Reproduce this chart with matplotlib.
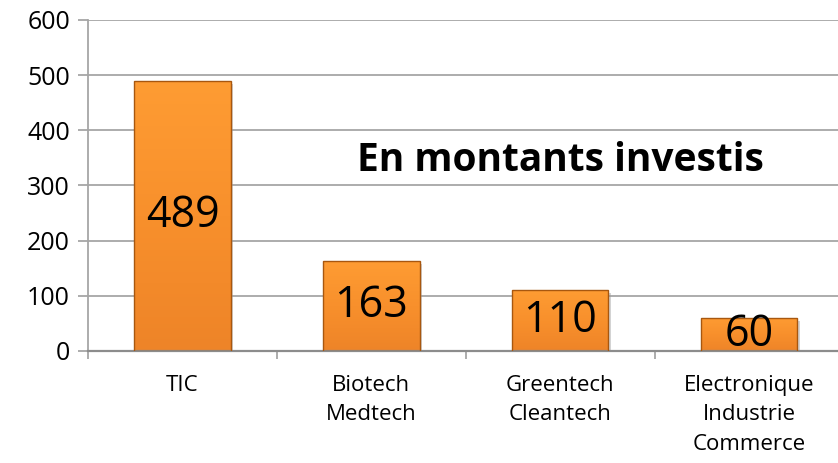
import numpy as np
import matplotlib.pyplot as plt
from matplotlib.colors import LinearSegmentedColormap

categories = ["TIC", "Biotech\nMedtech", "Greentech\nCleantech", "Electronique\nIndustrie\nCommerce"]
values = [489, 163, 110, 60]
yticks = [0, 100, 200, 300, 400, 500, 600]
title = "En montants investis"

plt.rcParams['font.family'] = ['Open Sans', 'DejaVu Sans']

fig = plt.figure(figsize=(8.38, 4.63), dpi=100)
ax = fig.add_axes([0.105, 0.242, 0.895, 0.715])

x = np.arange(len(categories))
w = 0.51
grid_c = "#A6A6A6"
for y in yticks[1:]:
    ax.axhline(y, color=grid_c, lw=1.3, zorder=0)

# soft shadow
ax.bar(x + 0.015, values, width=w, bottom=-5, color="#9E9E9E", alpha=0.45, zorder=1)
bars = ax.bar(x, values, width=w, color="none", edgecolor="#A8570F", linewidth=1.0, zorder=3)

# vertical gradient fill
cmap = LinearSegmentedColormap.from_list("org", ["#EE8428", "#F8902C", "#FE9C33"])
grad = np.linspace(0, 1, 256).reshape(-1, 1)
for b in bars:
    x0, y0 = b.get_x(), b.get_y()
    im = ax.imshow(grad, cmap=cmap, origin="lower", aspect="auto",
                   extent=[x0, x0 + b.get_width(), y0, y0 + b.get_height()], zorder=2)
    im.set_clip_path(b)

for xi, v in zip(x, values):
    ax.text(xi, v / 2, str(v), ha="center", va="center", fontsize=31, zorder=4)

ax.text(2.0, 345, title, ha="center", va="center", fontsize=28, fontweight="bold")

ax.set_xlim(-0.5, 3.47)
ax.set_ylim(0, 600)
ax.set_yticks(yticks)
ax.set_yticklabels([str(t) for t in yticks], fontsize=18)
ax.set_xticks(x)
ax.set_xticklabels(categories, fontsize=16, linespacing=1.55)
ax.set_xticks(np.arange(-0.5, 3.5, 1.0), minor=True)
ax.tick_params(axis="x", which="major", length=0, pad=17)
ax.tick_params(axis="x", which="minor", length=6, color=grid_c, width=1.3)
ax.tick_params(axis="y", length=7, color=grid_c, width=1.3, pad=6)
for s in ["top", "right"]:
    ax.spines[s].set_visible(False)
ax.spines["left"].set_color(grid_c)
ax.spines["left"].set_linewidth(1.3)
ax.spines["bottom"].set_color("#8C8C8C")
ax.spines["bottom"].set_linewidth(1.6)

fig.savefig("out.png", dpi=100)
